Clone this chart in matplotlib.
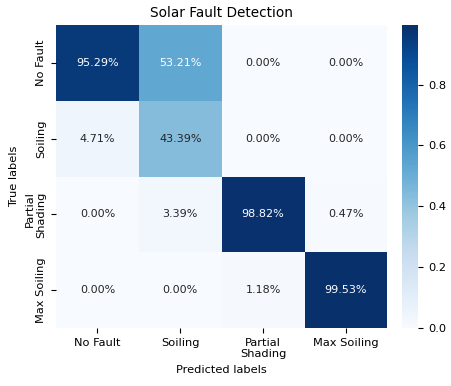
import numpy as np
import matplotlib
matplotlib.use("Agg")
import matplotlib.pyplot as plt
import seaborn as sns

labels = ["No Fault", "Soiling", "Partial\nShading", "Max Soiling"]
row_no_fault = [0.9529, 0.5321, 0.0000, 0.0000]
row_soiling = [0.0471, 0.4339, 0.0000, 0.0000]
row_partial = [0.0000, 0.0339, 0.9882, 0.0047]
row_max = [0.0000, 0.0000, 0.0118, 0.9953]

cm = np.array([row_no_fault, row_soiling, row_partial, row_max])

fig = plt.figure(figsize=(4.52, 3.86), dpi=100)
ax = fig.add_axes([0.124, 0.150, 0.733, 0.785])
cax = fig.add_axes([0.889, 0.150, 0.036, 0.785])
sns.heatmap(cm, annot=True, fmt=".2%", cmap="Blues", ax=ax, cbar_ax=cax,
            xticklabels=labels, yticklabels=labels, annot_kws={"size": 8})
ax.set_title("Solar Fault Detection", fontsize=9.8)
ax.set_xlabel("Predicted labels", fontsize=8.2)
ax.set_ylabel("True labels", fontsize=8.2)
ax.tick_params(labelsize=8.2)
cax.tick_params(labelsize=8.2)
plt.setp(ax.get_xticklabels(), rotation=0)
plt.setp(ax.get_yticklabels(), rotation=90, va="center")
fig.savefig("out.png", dpi=100)
